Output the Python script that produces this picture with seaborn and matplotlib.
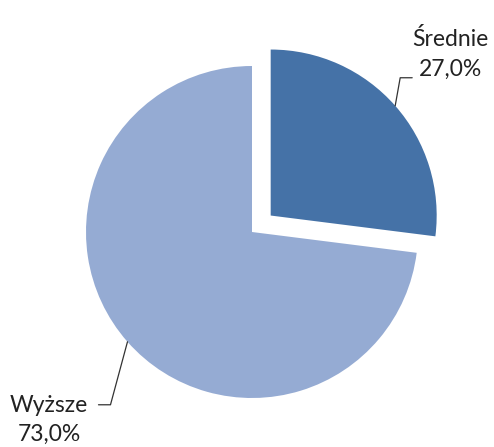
import numpy as np
import matplotlib
matplotlib.use("Agg")
import matplotlib.pyplot as plt
import seaborn as sns

sns.set_theme(style="white")
plt.rcParams['font.family'] = ['Lato', 'DejaVu Sans']

categories = ["Średnie", "Wyższe"]
shares = [27.0, 73.0]
colors = ["#4572A7", "#95ABD3"]
explode_frac = [0.15, 0.0]

W, H = 494, 447
fig = plt.figure(figsize=(W / 100, H / 100), dpi=100)
ax = fig.add_axes([0, 0, 1, 1])

cx, cy, R = 252, H - 232, 166
wedges, _ = ax.pie(shares, colors=colors, startangle=90, counterclock=False,
                   explode=[f * R for f in explode_frac], center=(cx, cy), radius=R,
                   wedgeprops=dict(linewidth=0))
ax.set_xlim(0, W)
ax.set_ylim(0, H)
ax.set_aspect("equal")
ax.axis("off")

# label placement: (text x, text y, elbow offset, tail offset)
layout = [
    dict(tx=450, ty=H - 54, elbow=(5, 28), tail=(12, 0)),
    dict(tx=49, ty=H - 420, elbow=(-17, -63), tail=(-12, 0)),
]
for w, name, val, lay in zip(wedges, categories, shares, layout):
    mid = np.deg2rad((w.theta1 + w.theta2) / 2)
    ox, oy = w.center
    ax_, ay_ = ox + w.r * np.cos(mid), oy + w.r * np.sin(mid)
    ex, ey = ax_ + lay["elbow"][0], ay_ + lay["elbow"][1]
    fx, fy = ex + lay["tail"][0], ey + lay["tail"][1]
    ax.plot([ax_, ex, fx], [ay_, ey, fy], color="#333333", lw=0.9)
    ax.text(lay["tx"], lay["ty"], f"{name}\n{val:.1f}%".replace(".", ","),
            ha="center", va="center", fontsize=16.5, color="#222222",
            linespacing=1.5)

fig.savefig("out.png", dpi=100)
